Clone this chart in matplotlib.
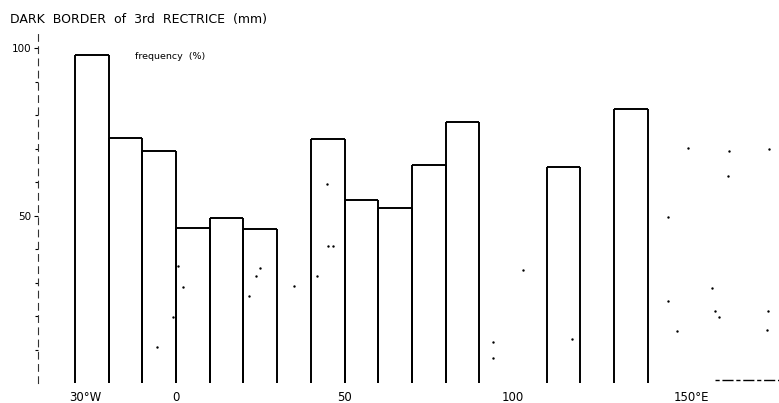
import matplotlib
matplotlib.use("Agg")
import matplotlib.pyplot as plt
import matplotlib.transforms as mtransforms

# frequency (%) of the dark border class per 10 degree longitude band
band_left = [-30, -20, -10, 0, 10, 20, 40, 50, 60, 70, 80, 110, 130]
frequency = [98.0, 73.2, 69.3, 46.2, 49.2, 45.9, 72.9, 54.6, 52.3, 65.2, 78.0, 64.4, 81.8]
band_width = 10

# scattered single records
spot_lon = [44.8, 45.1, 46.6, 41.8, 35.0, 103.0, 94.1, 94.1, 0.6, 2.1, -0.9, 24.9,
            23.7, 21.7, -5.6, 151.9, 164.1, 176.0, 163.8, 146.0, 146.0, 159.1,
            159.9, 161.1, 148.7, 175.7, 175.4, 117.5]
spot_val = [59.4, 40.9, 40.9, 31.9, 29.0, 33.7, 12.2, 7.5, 34.9, 28.7, 19.7, 34.3,
            31.9, 26.0, 10.7, 70.1, 69.3, 69.9, 61.8, 49.6, 24.5, 28.4,
            21.5, 19.7, 15.5, 21.5, 15.8, 13.1]

x_ticks = [-30, 0, 50, 100, 150]
x_labels = ["30°W", "0", "50", "100", "150°E"]
y_ticks = [50, 100]

plt.rcParams['font.family'] = ['DejaVu Sans']

fig = plt.figure(figsize=(7.79, 4.03), dpi=100)
ax = fig.add_axes([38 / 779, 20 / 403, 741 / 779, 351.75 / 403])

# white bars, outlined on the sides and top only (open at the base)
ax.bar(band_left, frequency, width=band_width, align='edge',
       facecolor='white', edgecolor='none', zorder=1)
band_right = [b + band_width for b in band_left]
ax.vlines(band_left, 0, frequency, color='black', linewidth=1.4, zorder=2)
ax.vlines(band_right, 0, frequency, color='black', linewidth=1.4, zorder=2)
ax.hlines(frequency, band_left, band_right, color='black', linewidth=1.4, zorder=2)

ax.scatter(spot_lon, spot_val, s=3, color='black', linewidths=0, zorder=3)

# short dashed reference line, lower right
ax.plot([160, 179], [1.0, 1.0], color='black', linewidth=1.0,
        linestyle=(0, (3, 2, 8, 2)), zorder=3)

ax.set_xlim(-41, 179)
ax.set_ylim(0, 105)

for side in ['top', 'right', 'bottom']:
    ax.spines[side].set_visible(False)
ax.spines['left'].set_linestyle((0, (6, 5)))
ax.spines['left'].set_linewidth(0.8)
ax.spines['left'].set_color('#333333')

ax.set_yticks(y_ticks)
ax.set_yticklabels([str(v) for v in y_ticks])
ax.set_yticks(range(10, 100, 10), minor=True)
ax.tick_params(axis='y', which='major', direction='out', length=3, width=0.8,
               labelsize=7.5, pad=2)
ax.tick_params(axis='y', which='minor', direction='out', length=2, width=0.8)
ax.set_xticks([])

# x labels: number centred on its band edge, hemisphere letter trailing
for x, lab in zip(x_ticks, x_labels):
    shift = 10 if '°' in lab else 0
    off = mtransforms.ScaledTranslation(shift / 100, 0, fig.dpi_scale_trans)
    ax.text(x, -4.2, lab, ha='center', va='center', fontsize=8.5,
            transform=ax.transData + off, clip_on=False)

fig.text(10 / 779, 1 - 19 / 403, "DARK  BORDER  of  3rd  RECTRICE  (mm)",
         ha='left', va='center', fontsize=9)
ax.text(-12.3, 97.5, "frequency  (%)", ha='left', va='center', fontsize=6.8)

fig.savefig("out.png", dpi=100, facecolor='white')
